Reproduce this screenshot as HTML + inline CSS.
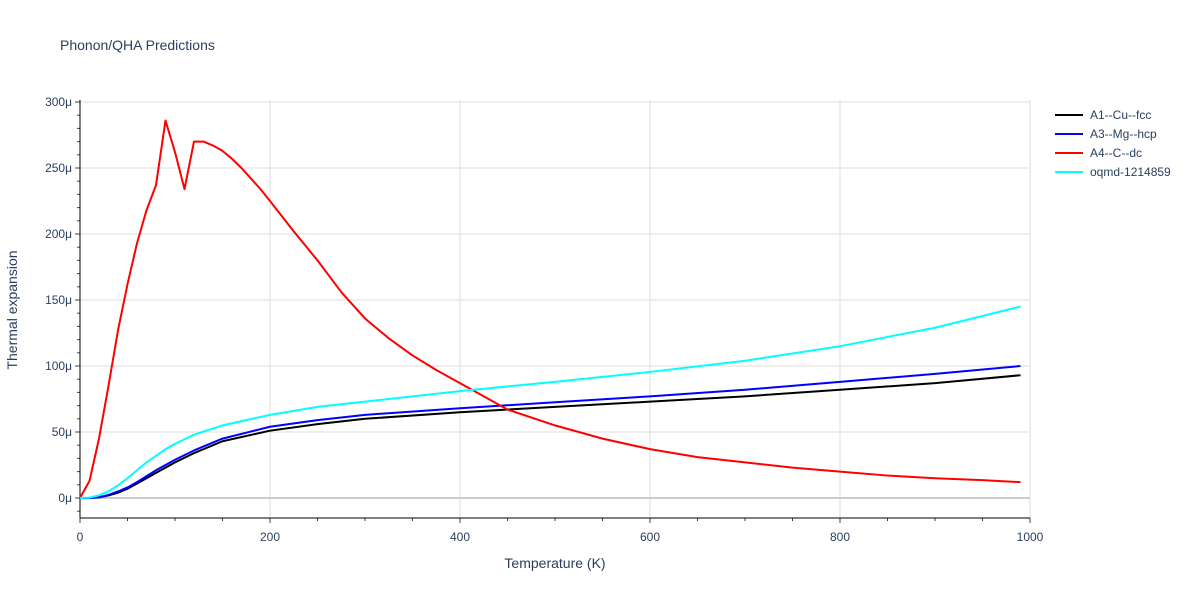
<!DOCTYPE html>
<html><head><meta charset="utf-8"><style>
body{margin:0;background:#fff;font-family:"Liberation Sans",sans-serif;}
svg text{font-family:"Liberation Sans",sans-serif;fill:#2a3f5f;}
</style></head><body>
<svg width="1200" height="600">
<text x="60" y="50" font-size="14">Phonon/QHA Predictions</text>
<g id="grid"></g><g id="axes"></g><g id="series"></g><g id="legend"></g>
<text x="555" y="568" font-size="14" text-anchor="middle">Temperature (K)</text>
<text transform="translate(17,310) rotate(-90)" font-size="14" text-anchor="middle">Thermal expansion</text>
</svg>
<script>
const xTicks=[0,200,400,600,800,1000];
const yTicks=[0,50,100,150,200,250,300];
const names=["A1--Cu--fcc","A3--Mg--hcp","A4--C--dc","oqmd-1214859"];
const colors=["#000000","#0000ff","#ff0000","#00ffff"];
const tCu=[0,10,20,30,40,50,60,70,80,90,100,120,150,200,250,300,400,500,600,700,800,900,990];
const vCu=[0,0,0.5,2,4,7,11,15,19,23,27,34,43,51,56,60,65,69,73,77,82,87,93];
const vMg=[0,0,0.6,2.3,5,8,12,16.5,21,25,29,36,45,54,59,63,68,72.5,77,82,88,94,100];
const tC=[0,10,20,30,40,50,60,70,80,90,100,110,120,130,140,150,160,170,180,190,200,225,250,275,300,325,350,375,400,450,500,550,600,650,700,750,800,850,900,950,990];
const vC=[0,13,45,85,127,162,193,218,237,286,262,234,270,270,267,263,257,250,242,234,225,202,180,156,136,121,108,97,87,67,55,45,37,31,27,23,20,17,15,13.5,12];
const tCy=[0,10,20,30,40,50,60,70,80,90,100,120,150,200,250,300,400,500,600,700,800,900,990];
const vCy=[0,0.3,2,5,9.5,15,21,27,32,37,41,48,55,63,69,73,81,88,95.5,104,115,129,145];
const ns="http://www.w3.org/2000/svg";
const X=t=>80+t*0.95, Y=v=>498-v*1.32;
function el(tag,attrs,parent){const e=document.createElementNS(ns,tag);for(const k in attrs)e.setAttribute(k,attrs[k]);document.getElementById(parent).appendChild(e);return e;}
xTicks.forEach(t=>{
 if(t>0){const g=el('line',{x1:X(t),x2:X(t),y1:100,y2:518,stroke:'#ddd','stroke-width':1},'grid');
 
 }
 const tx=el('text',{x:X(t),y:541,'font-size':12,'text-anchor':'middle'},'axes');tx.textContent=t;
 
 
});
for(let t=0;t<=1000;t+=50){el('line',{x1:X(t),x2:X(t),y1:518,y2:t%200==0?523:521,stroke:'#444'},'axes');}
yTicks.forEach(v=>{
 const g=el('line',{x1:80,x2:1030,y1:Y(v),y2:Y(v),stroke:v==0?'#ccc':'#ddd','stroke-width':v==0?2:1},'grid');
 
 
 const tx=el('text',{x:72,y:Y(v)+4,'font-size':12,'text-anchor':'end'},'axes');tx.textContent=v+'μ';
 
 
});
for(let v=-10;v<=300;v+=10){el('line',{x1:v%50==0?75:77,x2:80,y1:Y(v),y2:Y(v),stroke:'#444'},'axes');}
el('line',{x1:80,x2:80,y1:100,y2:518,stroke:'#000'},'axes');
el('line',{x1:80,x2:1030,y1:518,y2:518,stroke:'#000'},'axes');
const series=[[tCu,vCu],[tCu,vMg],[tC,vC],[tCy,vCy]];
series.forEach((s,i)=>{
 const p=el('polyline',{points:s[0].map((t,j)=>X(t)+','+Y(s[1][j])).join(' '),fill:'none',stroke:colors[i],'stroke-width':2,'stroke-linejoin':'round'},'series');
 
 
 const y=115+i*19;
 const l=el('line',{x1:1055,x2:1083,y1:y,y2:y,stroke:colors[i],'stroke-width':2},'legend');
 
 
 const tx=el('text',{x:1090,y:y+4,'font-size':12},'legend');tx.textContent=names[i];
 
 
});
</script>
</body></html>
